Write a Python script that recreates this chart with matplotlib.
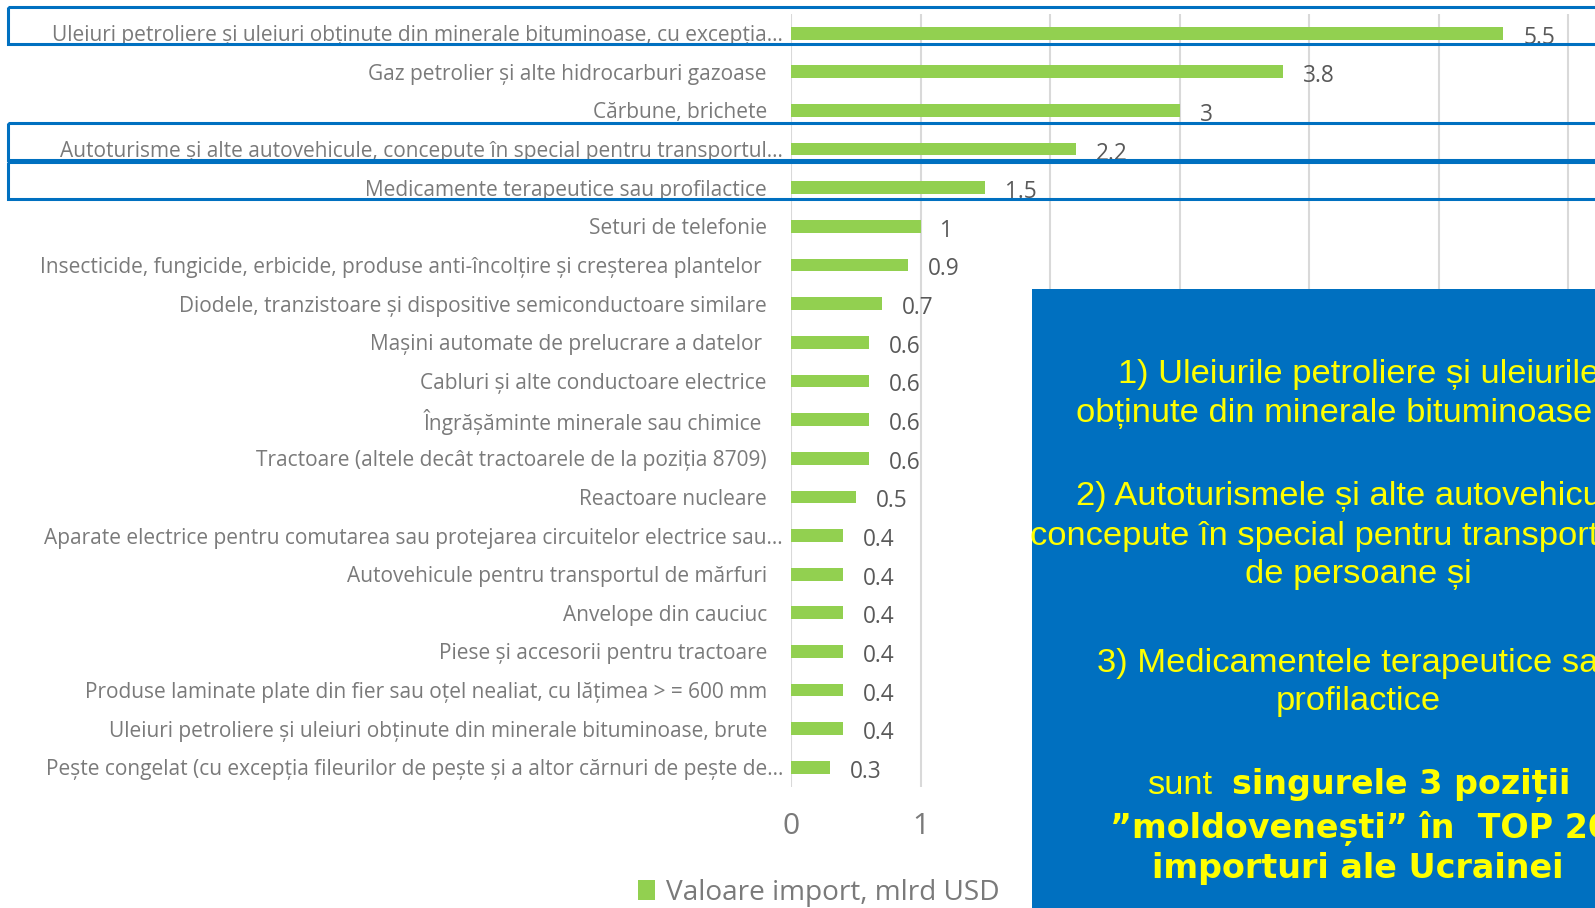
import matplotlib
matplotlib.use("Agg")
import matplotlib.pyplot as plt
from matplotlib.patches import Rectangle, Patch
from matplotlib.transforms import blended_transform_factory, ScaledTranslation

# ---------------- data ----------------
categories = [
    "Uleiuri petroliere și uleiuri obținute din minerale bituminoase, cu excepția…",
    "Gaz petrolier și alte hidrocarburi gazoase",
    "Cărbune, brichete",
    "Autoturisme și alte autovehicule, concepute în special pentru transportul…",
    "Medicamente terapeutice sau profilactice",
    "Seturi de telefonie",
    "Insecticide, fungicide, erbicide, produse anti-încolțire și creșterea plantelor ",
    "Diodele, tranzistoare și dispositive semiconductoare similare",
    "Mașini automate de prelucrare a datelor ",
    "Cabluri și alte conductoare electrice",
    "Îngrășăminte minerale sau chimice ",
    "Tractoare (altele decât tractoarele de la poziția 8709)",
    "Reactoare nucleare",
    "Aparate electrice pentru comutarea sau protejarea circuitelor electrice sau…",
    "Autovehicule pentru transportul de mărfuri",
    "Anvelope din cauciuc",
    "Piese și accesorii pentru tractoare",
    "Produse laminate plate din fier sau oțel nealiat, cu lățimea > = 600 mm",
    "Uleiuri petroliere și uleiuri obținute din minerale bituminoase, brute",
    "Pește congelat (cu excepția fileurilor de pește și a altor cărnuri de pește de…",
]
values = [5.5, 3.8, 3, 2.2, 1.5, 1, 0.9, 0.7, 0.6, 0.6, 0.6, 0.6, 0.5,
          0.4, 0.4, 0.4, 0.4, 0.4, 0.4, 0.3]
x_ticks = [0, 1, 2, 3, 4, 5, 6]
x_tick_labels = ["0", "1", "", "", "", "", ""]   # 2..6 are hidden behind the note box
legend_label = "Valoare import, mlrd USD"
highlighted_rows = [0, 3, 4]

note_regular = [
    "1) Uleiurile petroliere și uleiurile",
    "obținute din minerale bituminoase,",
    "2) Autoturismele și alte autovehicule,",
    "concepute în special pentru transportul",
    "de persoane și",
    "3) Medicamentele terapeutice sau",
    "profilactice",
]
note_sunt = "sunt"
note_bold = ["singurele 3 poziții", "”moldovenești” în  TOP 20", "importuri ale Ucrainei"]

# ---------------- style ----------------
plt.rcParams['font.family'] = ['Open Sans', 'DejaVu Sans']
W, H = 1595, 908
fig = plt.figure(figsize=(W / 100, H / 100), dpi=100)
renderer = fig.canvas.get_renderer()

GREEN = '#92D050'
BLUE = '#0070C0'
YELLOW = '#FFFF00'
LABEL_GRAY = '#7a7a7a'
VALUE_GRAY = '#595959'

row0, step = 33.2, 38.64
n = len(categories)
top_px = row0 - step / 2
bot_px = row0 + (n - 0.5) * step
x0_px = 791
unit = 129.5

ax = fig.add_axes([x0_px / W, 1 - bot_px / H, (W - x0_px) / W, (bot_px - top_px) / H])
ax.set_xlim(0, (W - x0_px) / unit)
ax.set_ylim(n - 0.5, -0.5)
ypos = list(range(n))
ax.barh(ypos, values, height=0.33, color=GREEN, zorder=3)

ax.set_xticks(x_ticks)
ax.set_xticklabels(x_tick_labels)
ax.grid(axis='x', color='#d9d9d9', lw=1.5, zorder=0)
ax.grid(axis='y', visible=False)
ax.set_axisbelow(True)
for s in ax.spines.values():
    s.set_visible(False)
ax.tick_params(axis='both', length=0)
ax.tick_params(axis='x', pad=18, labelsize=21.5, labelcolor=LABEL_GRAY)

# fit category label size to measured width of the longest label
tmp = fig.text(0, 0, categories[0], fontsize=14)
w = tmp.get_window_extent(renderer).width
lab_size = 14 * 735 / w
tmp.remove()

ax.set_yticks(ypos)
ax.set_yticklabels(categories)
ax.tick_params(axis='y', pad=17.3, labelsize=lab_size, labelcolor=LABEL_GRAY)
for lab in ax.get_yticklabels():
    if lab.get_text().endswith('…'):
        lab.set_transform(lab.get_transform() + ScaledTranslation(16 / 100, 0, fig.dpi_scale_trans))

for i, v in enumerate(values):
    ax.annotate(f"{v:g}", (v, i), xytext=(14.4, -3.2), textcoords='offset points',
                ha='left', va='center', fontsize=16.3, color=VALUE_GRAY, zorder=4)

fig.legend([Patch(facecolor=GREEN, edgecolor='none')], [legend_label],
           loc='center left', bbox_to_anchor=(638 / W, 1 - 893 / H), frameon=False,
           fontsize=20.2, handlelength=0.62, handleheight=0.75, handletextpad=0.38,
           borderpad=0, borderaxespad=0, labelcolor=LABEL_GRAY)

# highlight boxes around rows
bt = blended_transform_factory(fig.transFigure, ax.transData)
off = -7.5 / step
hh = 37.4 / step
for r in highlighted_rows:
    fig.add_artist(Rectangle((8 / W, r + off - hh / 2), 1.0, hh, transform=bt,
                             fill=False, edgecolor=BLUE, lw=2.2, zorder=9, clip_on=False))

# blue note box
fig.add_artist(Rectangle((1032 / W, -0.01), (W - 1032) / W + 0.02, 1 - 289 / H + 0.01,
                         transform=fig.transFigure, facecolor=BLUE, edgecolor='none', zorder=10))

reg_font = dict(family=['Liberation Sans', 'DejaVu Sans'], fontsize=24.8, color=YELLOW, zorder=11)
reg_pos = [(1118, 382.7, 'left'), (1076, 422, 'left'), (1076, 505, 'left'),
           (1030, 545, 'left'), (1358, 583, 'center'), (1097, 672, 'left'), (1358, 710, 'center')]
for txt, (x, yb, ha) in zip(note_regular, reg_pos):
    fig.text(x / W, 1 - yb / H, txt, ha=ha, va='baseline', **reg_font)

fig.text(1147 / W, 1 - 794 / H, note_sunt, ha='left', va='baseline', **reg_font)

bold_font = dict(family=['DejaVu Sans'], fontweight='bold', color=YELLOW, zorder=11)
tb = fig.text(0, 0, note_bold[2], fontsize=20, **bold_font)
bsize = 20 * 413 / tb.get_window_extent(renderer).width
tb.remove()
bold_pos = [(1232, 794, 'left'), (1110, 838, 'left'), (1357.5, 877.7, 'center')]
for txt, (x, yb, ha) in zip(note_bold, bold_pos):
    fig.text(x / W, 1 - yb / H, txt, ha=ha, va='baseline', fontsize=bsize, **bold_font)

fig.savefig("out.png", dpi=100)
